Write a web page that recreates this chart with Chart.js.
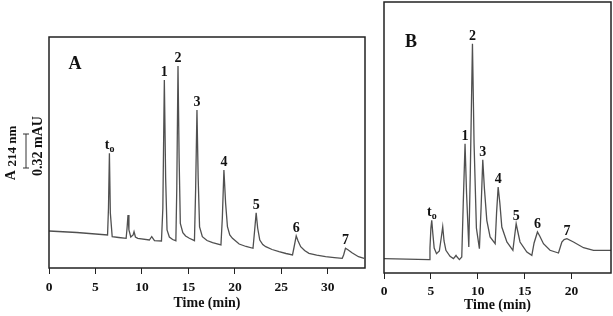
<!DOCTYPE html>
<html>
<head>
<meta charset="utf-8">
<script src="https://cdn.jsdelivr.net/npm/chart.js@4/dist/chart.umd.min.js"></script>
<style>
  html, body { margin: 0; padding: 0; background: #fff; }
  #wrap { position: relative; width: 613px; height: 316px; }
  #chartA { position: absolute; left: 0; top: 0; }
  #chartB { position: absolute; left: 370px; top: 0; }
</style>
</head>
<body>
<div id="wrap">
  <canvas id="chartA" width="370" height="316"></canvas>
  <canvas id="chartB" width="243" height="316"></canvas>
</div>
<script>
// panel A trace (time in min, detector signal in arbitrary units)
const timeA = [0, 3, 6.3, 6.4, 6.5, 6.6, 6.8, 7.5, 8.3, 8.4, 8.5, 8.6, 8.8, 9.05, 9.15, 9.3, 9.55,
  10.8, 10.95, 11.05, 11.35, 12.1, 12.25, 12.41, 12.55, 12.7, 12.95, 13.3, 13.65, 13.75, 13.88,
  14.0, 14.13, 14.4, 14.7, 15.1, 15.65, 15.78, 15.92, 16.05, 16.2, 16.5, 17.0, 17.6, 18.5, 18.65,
  18.82, 19.0, 19.2, 19.45, 19.74, 20.46, 21.2, 21.95, 22.1, 22.29, 22.45, 22.68, 23.0, 23.32,
  24.0, 24.75, 25.5, 26.2, 26.35, 26.6, 26.8, 27.08, 27.5, 27.97, 28.8, 29.76, 30.7, 31.55, 31.7,
  31.9, 32.2, 32.6, 33.3, 33.9];
const signalA = [37, 35.5, 33, 60, 114.7, 55, 31.3, 30.5, 29.7, 40, 53, 38, 31, 33, 36.3, 31, 29.7,
  28, 30, 31.3, 27.3, 27, 60, 188, 90, 38, 31, 28.5, 27.3, 80, 202,
  110, 44.7, 35.3, 32, 29.7, 27.3, 80, 158, 90, 41, 31.3, 27.5, 25.3, 23, 50,
  98, 65, 41.3, 33, 29.7, 24, 21.5, 19.7, 35, 55.3, 40, 28, 23.5, 21.3,
  18.5, 16.3, 14.5, 13, 20, 32, 27, 21.3, 17.5, 14.7, 12.8, 11.3, 10.4, 9.7, 13,
  19.7, 18, 15.3, 11.3, 9.7];

// panel B trace
const timeB = [0, 4.8, 4.9, 5.0, 5.09, 5.2, 5.35, 5.6, 5.9, 6.1, 6.26, 6.4, 6.6, 7.04, 7.4, 7.55,
  7.68, 7.8, 8.04, 8.29, 8.45, 8.64, 8.8, 9.04, 9.2, 9.43, 9.6, 9.85, 10.17, 10.35, 10.53, 10.7,
  10.96, 11.31, 11.85, 12.0, 12.17, 12.35, 12.56, 13.1, 13.74, 13.9, 14.09, 14.25, 14.5, 15.23,
  15.76, 16.0, 16.36, 16.6, 17.0, 17.7, 18.6, 18.96, 19.2, 19.5, 20.2, 21.27, 22.34, 23.0, 24.2];
const signalB = [14.3, 13.4, 25, 45, 52.7, 40, 25, 19.3, 22, 35, 46.3, 32, 22.7, 16.7, 14.4, 16,
  17.7, 16, 13.4, 16, 70, 129.3, 80, 26, 100, 229.3, 130, 45, 24.3, 65, 113.3, 85,
  52.7, 36, 29.3, 60, 86, 70, 46, 31, 22.7, 35, 49.3, 42, 31, 21,
  17.7, 30, 41, 37, 29.3, 22.7, 20, 31, 33.5, 34.3, 31, 25.3, 22.7, 22.7, 22.7];

// peak annotations
const peakLabels = ['to', '1', '2', '3', '4', '5', '6', '7'];
const peakTimesA = [6.5, 12.41, 13.88, 15.92, 18.82, 22.29, 26.6, 31.9];
const peakTimesB = [5.09, 8.64, 9.43, 10.53, 12.17, 14.09, 16.36, 19.5];

// axis ticks
const ticksA = [0, 5, 10, 15, 20, 25, 30];
const ticksB = [0, 5, 10, 15, 20];

// scale bar on panel A: 34 signal units = 0.32 mAU
const scaleBarBase = 100;
const scaleBarSpan = 34;

const SERIF = "'Liberation Serif', 'Times New Roman', serif";

function toPoints(xs, ys) {
  return xs.map((x, i) => ({ x: x, y: ys[i] }));
}

// box around the plot + peak numbers + panel letter
function panelPlugin(letter, letterPos, peakTimes, times) {
  return {
    id: 'panel' + letter,
    afterDraw(chart) {
      const ctx = chart.ctx;
      const a = chart.chartArea;
      ctx.save();
      ctx.strokeStyle = '#222';
      ctx.lineWidth = 1.5;
      ctx.strokeRect(a.left, a.top, a.right - a.left, a.bottom - a.top);

      ctx.fillStyle = '#111';
      ctx.font = 'bold 18px ' + SERIF;
      ctx.textAlign = 'center';
      ctx.textBaseline = 'middle';
      ctx.fillText(letter, letterPos[0], letterPos[1]);

      const pts = chart.getDatasetMeta(0).data;
      ctx.textBaseline = 'alphabetic';
      peakTimes.forEach((t, i) => {
        const el = pts[times.indexOf(t)];
        const lab = peakLabels[i];
        const y = el.y - 4;
        if (lab === 'to') {
          ctx.font = 'bold 14px ' + SERIF;
          ctx.textAlign = 'right';
          ctx.fillText('t', el.x, y);
          ctx.font = 'bold 10px ' + SERIF;
          ctx.textAlign = 'left';
          ctx.fillText('o', el.x, y + 3);
        } else {
          ctx.font = 'bold 14px ' + SERIF;
          ctx.textAlign = 'center';
          ctx.fillText(lab, el.x, y);
        }
      });
      ctx.restore();
    }
  };
}

// y label and mAU scale bar for panel A
const yLabelPlugin = {
  id: 'yLabel',
  afterDraw(chart) {
    const ctx = chart.ctx;
    const ys = chart.scales.y;
    const y1 = ys.getPixelForValue(scaleBarBase);
    const y2 = ys.getPixelForValue(scaleBarBase + scaleBarSpan);
    ctx.save();
    ctx.strokeStyle = '#333';
    ctx.lineWidth = 1;
    ctx.beginPath();
    ctx.moveTo(26, y1); ctx.lineTo(26, y2);
    ctx.moveTo(23, y1); ctx.lineTo(29, y1);
    ctx.moveTo(23, y2); ctx.lineTo(29, y2);
    ctx.stroke();

    ctx.fillStyle = '#111';
    ctx.translate(11, 153);
    ctx.rotate(-Math.PI / 2);
    ctx.textBaseline = 'middle';
    ctx.textAlign = 'left';
    ctx.font = 'bold 14px ' + SERIF;
    const wA = ctx.measureText('A ').width;
    ctx.font = 'bold 13px ' + SERIF;
    const wRest = ctx.measureText('214 nm').width;
    const start = -(wA + wRest) / 2;
    ctx.font = 'bold 14px ' + SERIF;
    ctx.fillText('A', start, 0);
    ctx.font = 'bold 13px ' + SERIF;
    ctx.fillText('214 nm', start + wA, 2);
    ctx.restore();

    ctx.save();
    ctx.fillStyle = '#111';
    ctx.translate(38, 146);
    ctx.rotate(-Math.PI / 2);
    ctx.textAlign = 'center';
    ctx.textBaseline = 'middle';
    ctx.font = 'bold 14px ' + SERIF;
    ctx.fillText('0.32 mAU', 0, 0);
    ctx.restore();
  }
};

function makeOptions(cfg) {
  return {
    responsive: false,
    animation: false,
    layout: { padding: { top: cfg.top, right: cfg.right, bottom: 0, left: 0 } },
    plugins: { legend: { display: false }, tooltip: { enabled: false } },
    elements: {
      point: { radius: 0 },
      line: { tension: 0, borderWidth: 1.3, borderColor: '#505050' }
    },
    scales: {
      x: {
        type: 'linear',
        min: 0,
        max: cfg.xMax,
        afterBuildTicks: s => { s.ticks = cfg.ticks.map(v => ({ value: v })); },
        ticks: {
          color: '#111',
          padding: cfg.tickPad,
          maxRotation: 0,
          autoSkip: false,
          font: { family: SERIF, weight: 'bold', size: 13.5 }
        },
        grid: { display: true, drawOnChartArea: false, drawTicks: true, tickLength: 6, color: '#222' },
        border: { display: false },
        title: {
          display: true,
          text: 'Time (min)',
          color: '#111',
          font: { family: SERIF, weight: 'bold', size: 14 },
          padding: { top: 0, bottom: cfg.titlePad }
        },
        afterFit: s => { s.height = cfg.xHeight; }
      },
      y: {
        min: 0,
        max: cfg.yMax,
        ticks: { display: false },
        grid: { display: false },
        border: { display: false },
        afterFit: s => { s.width = cfg.yWidth; }
      }
    }
  };
}

new Chart(document.getElementById('chartA'), {
  type: 'line',
  data: { datasets: [{ data: toPoints(timeA, signalA), fill: false }] },
  options: makeOptions({ top: 37, right: 5, xMax: 34, yMax: 231, ticks: ticksA,
    tickPad: 5, titlePad: 4, xHeight: 48, yWidth: 49 }),
  plugins: [panelPlugin('A', [75, 64], peakTimesA, timeA), yLabelPlugin]
});

new Chart(document.getElementById('chartB'), {
  type: 'line',
  data: { datasets: [{ data: toPoints(timeB, signalB), fill: false }] },
  options: makeOptions({ top: 2, right: 2, xMax: 24.2, yMax: 271, ticks: ticksB,
    tickPad: 4, titlePad: 2, xHeight: 43, yWidth: 14 }),
  plugins: [panelPlugin('B', [41, 42], peakTimesB, timeB)]
});
</script>
</body>
</html>
